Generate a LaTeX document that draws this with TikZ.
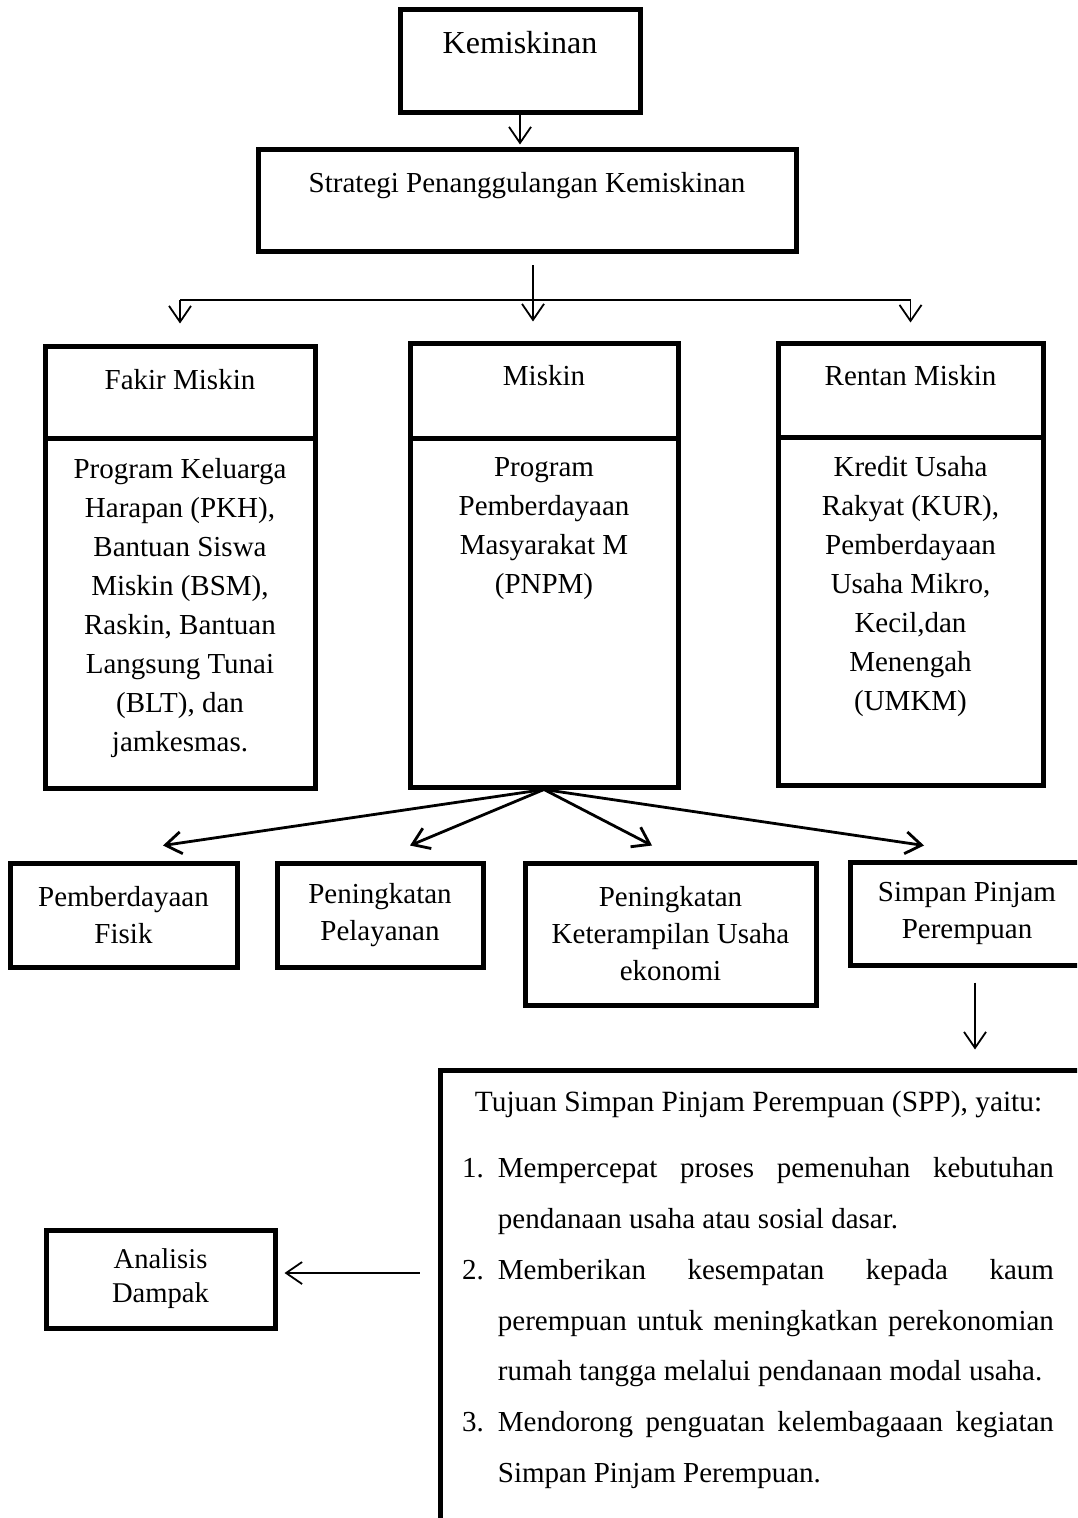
\documentclass[tikz,border=0pt]{standalone}
\usepackage{fontspec}
\setmainfont{Liberation Serif}
\usetikzlibrary{positioning,arrows.meta}

\newcommand{\sppitem}[2]{\par\noindent\hangindent=18pt\hangafter=0\llap{#1\hspace{7pt}}#2\par}

\begin{document}
\begin{tikzpicture}[x=0.5pt,y=-0.5pt,
  box/.style={draw,line width=2.5pt,inner sep=0pt,align=center,font=\fontsize{14.5pt}{19.5pt}\selectfont},
  headbox/.style={box,text height=10pt,text depth=#1},
  subbox/.style={box,font=\fontsize{14.5pt}{18.5pt}\selectfont},
  bodytxt/.style={inner sep=0pt,align=center,font=\fontsize{14.5pt}{19.5pt}\selectfont},
  listtxt/.style={inner sep=0pt,text width=296pt,align=justify,font=\fontsize{14.5pt}{25.4pt}\selectfont},
  conn/.style={line width=0.9pt},
  arr/.style={conn,-{Straight Barb[length=8pt,width=11pt]}},
  fan/.style={arr,line width=1.4pt}]
\useasboundingbox (0,0) rectangle (1077,1518);
\clip (0,0) rectangle (1077,1518);
\fill[white] (0,0) rectangle (1077,1518);

%Shape: Rectangle
\node[headbox=17.5pt,minimum width=120pt,minimum height=51.5pt,font=\fontsize{16pt}{19.5pt}\selectfont] (kem) at (520,61.5) {Kemiskinan};
\node[headbox=18pt,minimum width=269pt,minimum height=51pt] (strat) at (527,201) {Strategi Penanggulangan Kemiskinan};

%Shape: Rectangle
\node[headbox=12.5pt,minimum width=135pt,minimum height=45.5pt] (fakirhead) at (180,392.5) {Fakir Miskin};
\node[box,minimum width=135pt,minimum height=175pt] (fakirbody) at (180,613) {};
\node[headbox=15pt,minimum width=134pt,minimum height=47pt] (miskinhead) at (544,391) {Miskin};
\node[box,minimum width=134pt,minimum height=174.5pt] (miskinbody) at (544,612.5) {};
\node[headbox=14.5pt,minimum width=132.5pt,minimum height=46.5pt] (rentanhead) at (910.5,390.5) {Rentan Miskin};
\node[box,minimum width=132.5pt,minimum height=174pt] (rentanbody) at (910.5,611) {};

% Text Node
\node[bodytxt,below=11pt of fakirbody.north] (fakirtxt) {Program Keluarga\\Harapan (PKH),\\Bantuan Siswa\\Miskin (BSM),\\Raskin, Bantuan\\Langsung Tunai\\(BLT), dan\\jamkesmas.};
\node[bodytxt,below=11pt of miskinbody.north] (miskintxt) {Program\\Pemberdayaan\\Masyarakat M\\(PNPM)};
\node[bodytxt,below=10.5pt of rentanbody.north] (rentantxt) {Kredit Usaha\\Rakyat (KUR),\\Pemberdayaan\\Usaha Mikro,\\Kecil,dan\\Menengah\\(UMKM)};

%Shape: Rectangle
\node[subbox,minimum width=113.5pt,minimum height=52pt] (fisik) at (123.5,915) {Pemberdayaan\\Fisik};
\node[subbox,minimum width=103pt,minimum height=52pt] (layan) at (380,915) {Peningkatan\\Pelayanan};
\node[subbox,minimum width=145.5pt,minimum height=71pt] (terampil) at (670.5,934) {Peningkatan\\Keterampilan Usaha\\ekonomi};
\node[subbox,minimum width=117pt,minimum height=51.5pt] (spp) at (967,913.5) {Simpan Pinjam\\Perempuan};
\node[box,minimum width=325pt,minimum height=230pt] (tujuan) at (765,1300) {};
\node[subbox,minimum width=114.5pt,minimum height=49pt,font=\fontsize{14.3pt}{17pt}\selectfont] (dampak) at (160.5,1279) {Analisis\\Dampak};

% Text Node
\node[inner sep=0pt,anchor=west,font=\fontsize{14.7pt}{19.5pt}\selectfont] (tujuanhead) at ([xshift=18.5pt,yshift=-18.5pt]tujuan.north west) {Tujuan Simpan Pinjam Perempuan (SPP), yaitu:};
\node[listtxt,anchor=north west] (sppitems) at ([xshift=12pt,yshift=-29.5pt]tujuan.north west) {%
\hyphenpenalty=10000\tolerance=10000\parskip=0pt
\sppitem{1.}{Mempercepat proses pemenuhan kebutuhan\linebreak pendanaan usaha atau sosial dasar.}
\sppitem{2.}{Memberikan kesempatan kepada kaum\linebreak perempuan untuk meningkatkan perekonomian\linebreak rumah tangga melalui pendanaan modal usaha.}
\sppitem{3.}{Mendorong penguatan kelembagaaan kegiatan\linebreak Simpan Pinjam Perempuan.}};

%Straight Lines
\coordinate (fork) at (533,300);
\draw[arr,shorten >=1.5pt] (kem.south) -- (kem.south |- strat.north);
\draw[arr,shorten <=5.5pt,shorten >=10pt] (fork |- strat.south) -- (fork |- miskinhead.north);
\draw[line width=0.7pt] (fork -| fakirhead) -- (fork -| rentanhead);
\draw[arr,shorten >=10.5pt] (fork -| fakirhead) -- (fakirhead.north);
\draw[arr,shorten >=9.5pt] (fork -| rentanhead) -- (rentanhead.north);

%Straight Lines
\draw[fan] (miskinbody.south) -- ([xshift=19.75pt,yshift=7.5pt]fisik.north);
\draw[fan] (miskinbody.south) -- ([xshift=15pt,yshift=7.5pt]layan.north);
\draw[fan] (miskinbody.south) -- ([xshift=-9.25pt,yshift=7.5pt]terampil.north);
\draw[fan] (miskinbody.south) -- ([xshift=-21.5pt,yshift=7pt]spp.north);

%Straight Lines
\coordinate (sppout) at ([xshift=4pt,yshift=-7.5pt]spp.south);
\coordinate (dampakin) at ([yshift=3pt]dampak.east);
\draw[arr,shorten >=9pt] (sppout) -- (sppout |- tujuan.north);
\draw[arr,shorten <=9pt,shorten >=3.5pt] (tujuan.west |- dampakin) -- (dampakin);

\end{tikzpicture}
\end{document}
